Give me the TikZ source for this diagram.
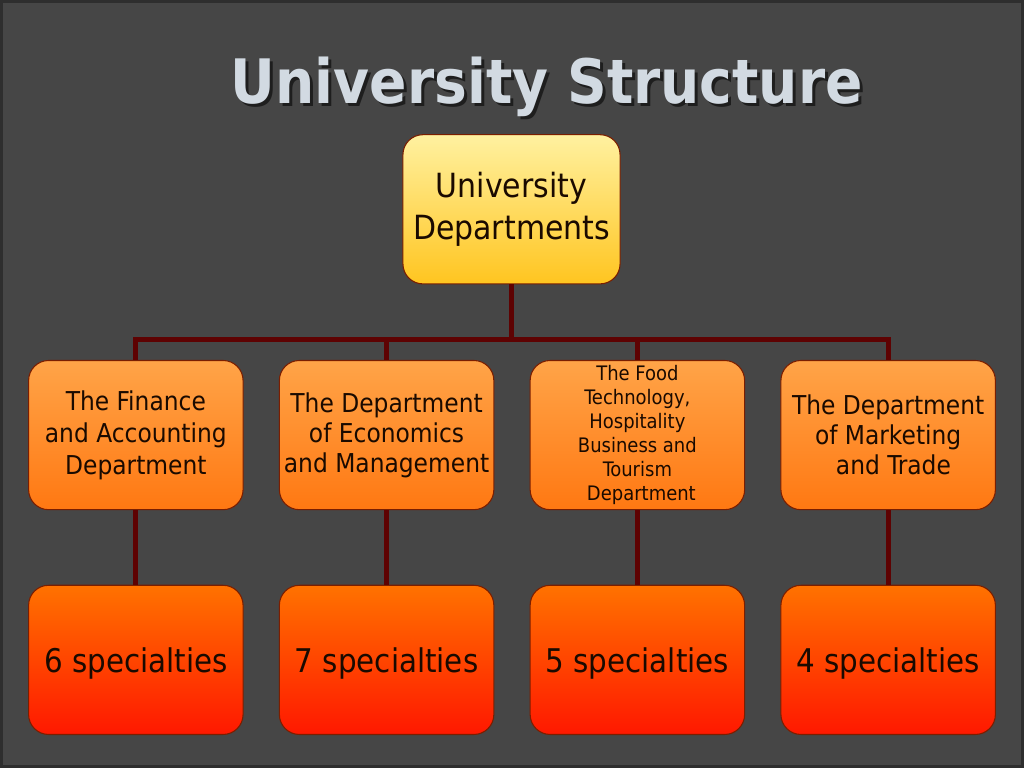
\documentclass[tikz,border=0pt]{standalone}
\usepackage{fontspec}
\setmainfont{DejaVu Sans Condensed}
\usepackage{tikz}
\usetikzlibrary{
  positioning,
  calc,
}
\definecolor{pagebg}{HTML}{464646}
\definecolor{frame}{HTML}{2E2E2E}
\definecolor{titleink}{HTML}{D2DAE2}
\definecolor{shadowink}{HTML}{1E1E1E}
\definecolor{trunk}{HTML}{5E0202}
\definecolor{edge}{HTML}{7A1E00}
\definecolor{goldtop}{HTML}{FFF1A0}
\definecolor{goldbot}{HTML}{FFC520}
\definecolor{depttop}{HTML}{FFA448}
\definecolor{deptbot}{HTML}{FF7812}
\definecolor{spectop}{HTML}{FF7200}
\definecolor{specbot}{HTML}{FF1800}
\definecolor{ink}{HTML}{1A0A00}
\tikzset{
  link/.style={draw=trunk, line width=3.8pt},
  card/.style={
    draw=edge,
    line width=0.8pt,
    rounded corners=15pt,
    minimum width=161pt,
    minimum height=112pt,
    align=center,
    text=ink,
    inner sep=2pt,
  },
  rootbox/.style={card, top color=goldtop, bottom color=goldbot,
    minimum width=163pt, font=\fontsize{25}{31.5}\selectfont},
  deptbox/.style={card, top color=depttop, bottom color=deptbot,
    font=\fontsize{19.5}{24}\selectfont},
  specbox/.style={card, top color=spectop, bottom color=specbot,
    text depth=0pt, font=\fontsize{24.5}{29}\selectfont},
}

\begin{document}
\begin{tikzpicture}[x=0.75pt,y=-0.75pt]
  \fill[pagebg] (0,0) rectangle (1024,768);
  \draw[frame, line width=2.2pt] (1,1) rectangle (1023,767);
  \useasboundingbox (0,0) rectangle (1024,768);

  % Title
  \node[font=\bfseries\fontsize{46}{50}\selectfont, text=shadowink] at (550,89) {University Structure};
  \node[font=\bfseries\fontsize{46}{50}\selectfont, text=titleink] (title) at (547,86) {University Structure};

  % Root
  \node[rootbox] (univ) at (511.5,209) {University\\Departments};

  % Departments
  \node[deptbox] (fin) at (135.5,435) {The Finance\\and Accounting\\Department};
  \node[deptbox, font=\fontsize{19.5}{22.5}\selectfont] (econ) at (386.5,435) {The Department\\of Economics\\and Management};
  \node[deptbox, font=\fontsize{15}{18}\selectfont] (food) at (637.5,435) {The Food\\Technology,\\Hospitality\\Business and\\Tourism\\\hspace{6pt}Department};
  \node[deptbox, font=\fontsize{19.5}{22.5}\selectfont] (mkt) at (888.5,435) {The Department\\of Marketing\\\hspace{8pt}and Trade};

  % Specialties
  \node[specbox] (six) at (135.5,660) {6 specialties};
  \node[specbox] (seven) at (386.5,660) {7 specialties};
  \node[specbox] (five) at (637.5,660) {5 specialties};
  \node[specbox] (four) at (888.5,660) {4 specialties};

  % Tree lines
  \coordinate (bus) at (511.5,339);
  \draw[link] (univ.south) -- (bus);
  \draw[link] (fin.north) -- (fin.north |- bus) -- (mkt.north |- bus) -- (mkt.north);
  \draw[link] (econ.north |- bus) -- (econ.north);
  \draw[link] (food.north |- bus) -- (food.north);
  \draw[link] (fin) -- (six);
  \draw[link] (econ) -- (seven);
  \draw[link] (food) -- (five);
  \draw[link] (mkt) -- (four);
\end{tikzpicture}
\end{document}
